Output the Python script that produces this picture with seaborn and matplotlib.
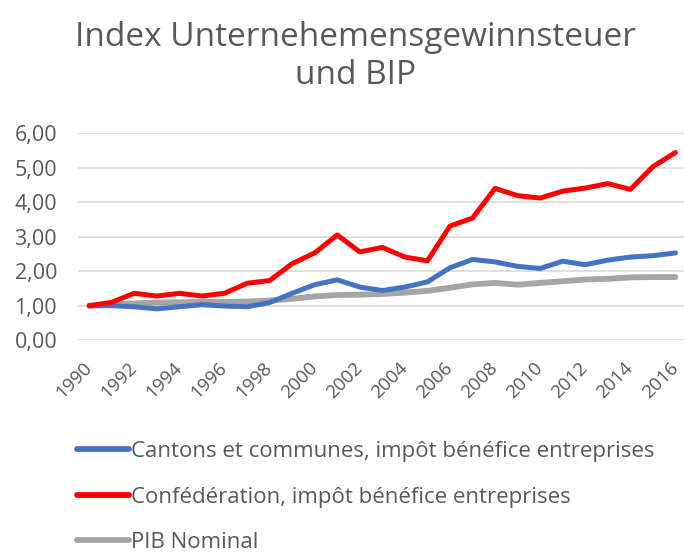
import pandas as pd
import matplotlib.pyplot as plt
import seaborn as sns

years = list(range(1990, 2017))

cantons = [1.00, 1.00, 0.97, 0.91, 0.97, 1.03, 0.99, 0.97, 1.09, 1.36,
           1.61, 1.75, 1.54, 1.44, 1.54, 1.69, 2.10, 2.34, 2.27, 2.14,
           2.08, 2.29, 2.19, 2.32, 2.41, 2.45, 2.53]
confed = [1.00, 1.10, 1.36, 1.28, 1.36, 1.28, 1.36, 1.65, 1.73, 2.22,
          2.53, 3.05, 2.56, 2.69, 2.41, 2.30, 3.31, 3.54, 4.40, 4.19,
          4.12, 4.32, 4.41, 4.54, 4.37, 5.03, 5.44]
pib = [1.00, 1.03, 1.07, 1.09, 1.10, 1.11, 1.11, 1.12, 1.15, 1.20,
       1.27, 1.31, 1.32, 1.34, 1.38, 1.43, 1.52, 1.62, 1.66, 1.61,
       1.66, 1.71, 1.76, 1.78, 1.82, 1.83, 1.83]

series_names = ["Cantons et communes, impôt bénéfice entreprises",
                "Confédération, impôt bénéfice entreprises",
                "PIB Nominal"]
colors = ["#4472C4", "#FF0000", "#A5A5A5"]

records = []
for name, vals in zip(series_names, [cantons, confed, pib]):
    for y, v in zip(years, vals):
        records.append({"Year": y, "Serie": name, "Index": v})
df = pd.DataFrame(records)

sns.set_theme(style="white")
plt.rcParams["font.family"] = ["Open Sans", "DejaVu Sans"]
text_col = "#595959"

fig = plt.figure(figsize=(6.84, 5.55), dpi=100)
ax = fig.add_axes([0.114, 0.387, 0.89, 0.373])

# draw PIB first so it sits underneath
order = [2, 0, 1]
for i in order:
    sub = df[df["Serie"] == series_names[i]]
    sns.lineplot(data=sub, x="Year", y="Index", color=colors[i], ax=ax,
                 linewidth=4.2 if i == 2 else 3.6, label=series_names[i],
                 solid_capstyle="round", legend=False)

ax.set_xlim(1989.5, 2016.5)
ax.set_ylim(0, 6)
ax.set_yticks([0, 1, 2, 3, 4, 5, 6])
ax.set_yticklabels([f"{v:.2f}".replace(".", ",") for v in range(7)],
                   fontsize=15.5, color=text_col)
ax.set_xticks(years[::2])
ax.set_xticklabels([str(y) for y in years[::2]], rotation=45, ha="right",
                   va="center", rotation_mode="anchor", fontsize=13.5,
                   color=text_col)
ax.tick_params(axis="y", length=0, pad=15)
ax.tick_params(axis="x", length=0, pad=18)
ax.grid(axis="y", color="#D9D9D9", linewidth=1.2)
ax.set_axisbelow(True)
for s in ax.spines.values():
    s.set_visible(False)
ax.set_xlabel("")
ax.set_ylabel("")

fig.suptitle("Index Unternehemensgewinnsteuer\nund BIP", fontsize=24,
             color=text_col, x=0.52, y=0.962, linespacing=1.2)

handles = [plt.Line2D([], [], color=c, linewidth=4.2) for c in colors]
fig.legend(handles, series_names, loc="upper left",
           bbox_to_anchor=(0.112, 0.205), frameon=False, fontsize=16,
           handlelength=2.35, handletextpad=0.1, labelspacing=1.1,
           borderpad=0, borderaxespad=0, labelcolor=text_col)

fig.savefig("out.png", dpi=100)
